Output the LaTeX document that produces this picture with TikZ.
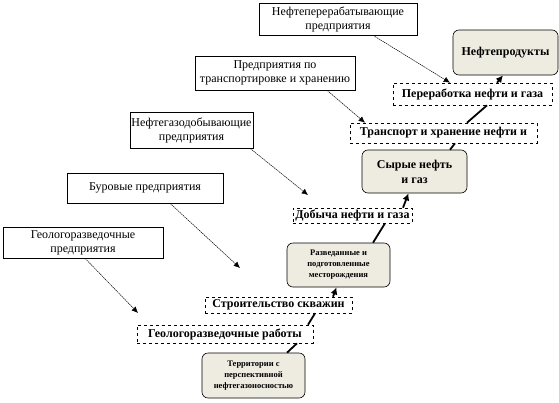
\documentclass[tikz,border=0pt]{standalone}
\usepackage{fontspec}
\setmainfont{Liberation Serif}
\usetikzlibrary{arrows.meta}
\definecolor{resfill}{RGB}{238,236,225}
\begin{document}
\begin{tikzpicture}[x=1pt,y=-1pt,
  every node/.style={font=\fontsize{12}{14}\selectfont},
  firm/.style={draw=black,fill=white,align=center,inner sep=1pt,line width=0.6pt},
  stage/.style={draw=black,dashed,fill=white,inner sep=1pt,line width=0.6pt,font=\fontsize{12}{14}\selectfont\bfseries},
  res/.style={draw=black,fill=resfill,rounded corners=6pt,align=center,inner sep=2pt,line width=0.6pt,font=\fontsize{12}{15}\selectfont\bfseries},
  small/.style={font=\fontsize{8.5}{11}\selectfont\bfseries},
  feed/.style={line width=1.8pt},
  feedtip/.style={line width=1.8pt,-{Latex[length=2.5mm,width=2.5mm]}},
  link/.style={line width=0.5pt,dash pattern=on 1.5pt off 0.7pt,-{Latex[length=2.2mm,width=2mm]}}]
\useasboundingbox (0,0) rectangle (559,402);
% enterprises
\node[firm,minimum width=158pt,minimum height=32pt] (ent1) at (338,19) {Нефтеперерабатывающие\\предприятия};
\node[firm,minimum width=160pt,minimum height=34pt] (ent2) at (275,73) {Предприятия по\\транспортировке и хранению};
\node[firm,minimum width=123pt,minimum height=36pt] (ent3) at (191.5,130) {Нефтегазодобывающие\\предприятия};
\node[firm,minimum width=156pt,minimum height=30pt] (ent4) at (145,188) {Буровые предприятия};
\node[firm,minimum width=160pt,minimum height=31pt] (ent5) at (83,242.5) {Геологоразведочные\\предприятия};
% chain of stages and results
\node[res,minimum width=105pt,minimum height=45pt] (prod) at (505.5,52.5) {Нефтепродукты};
\node[stage,minimum width=159pt,minimum height=22pt] (proc4) at (472.5,94) {Переработка нефти и газа};
\node[stage,minimum width=187pt,minimum height=20pt] (proc3) at (443.5,133) {Транспорт и хранение нефти и};
\node[res,minimum width=105pt,minimum height=43pt] (oil) at (414.5,171.5) {Сырые нефть\\и газ};
\node[stage,minimum width=119pt,minimum height=15pt] (proc2) at (352.5,215.5) {Добыча нефти и газа};
\node[res,small,minimum width=103pt,minimum height=44pt] (field) at (338.5,265) {Разведанные и\\подготовленные\\месторождения};
\node[stage,minimum width=147pt,minimum height=16pt] (proc1b) at (278.5,305) {Строительство скважин};
\node[stage,minimum width=176pt,minimum height=18pt] (proc1) at (225,334) {Геологоразведочные работы};
\node[res,small,minimum width=103pt,minimum height=45pt] (terr) at (253.5,375.5) {Территории с\\перспективной\\нефтегазоносностью};
\coordinate (e3) at (308,195);
\coordinate (e4) at (240,268);
\coordinate (e5) at (138,313);
% main flow
\draw[feed] ([xshift=33.5pt]terr.north) -- ([xshift=72pt]proc1.south);
\draw[feed] ([xshift=83pt]proc1.north) -- ([xshift=36.5pt]proc1b.south);
\draw[feedtip] ([xshift=54.5pt]proc1b.north) -- ([xshift=-2pt]field.south);
\draw[feed] ([xshift=34.5pt]field.north) -- ([xshift=32.5pt]proc2.south);
\draw[feedtip] ([xshift=50.5pt]proc2.north) -- ([xshift=-6pt]oil.south);
\draw[feed] ([xshift=35.5pt]oil.north) -- ([xshift=11.5pt]proc3.south);
\draw[feed] ([xshift=23.5pt]proc3.north) -- ([xshift=14.5pt]proc4.south);
\draw[feedtip] ([xshift=24.5pt]proc4.north) -- ([xshift=-2.5pt]prod.south);
% enterprises to stages
\draw[link] ([xshift=35pt]ent1.south) -- ([xshift=-22.5pt]proc4.north);
\draw[link] ([xshift=52pt]ent2.south) -- ([xshift=-78.5pt]proc3.north);
\foreach \a/\s/\b in {ent3/58.5/e3,ent4/25/e4,ent5/2/e5}
  \draw[link] ([xshift=\s pt]\a.south) -- (\b);
\end{tikzpicture}
\end{document}
